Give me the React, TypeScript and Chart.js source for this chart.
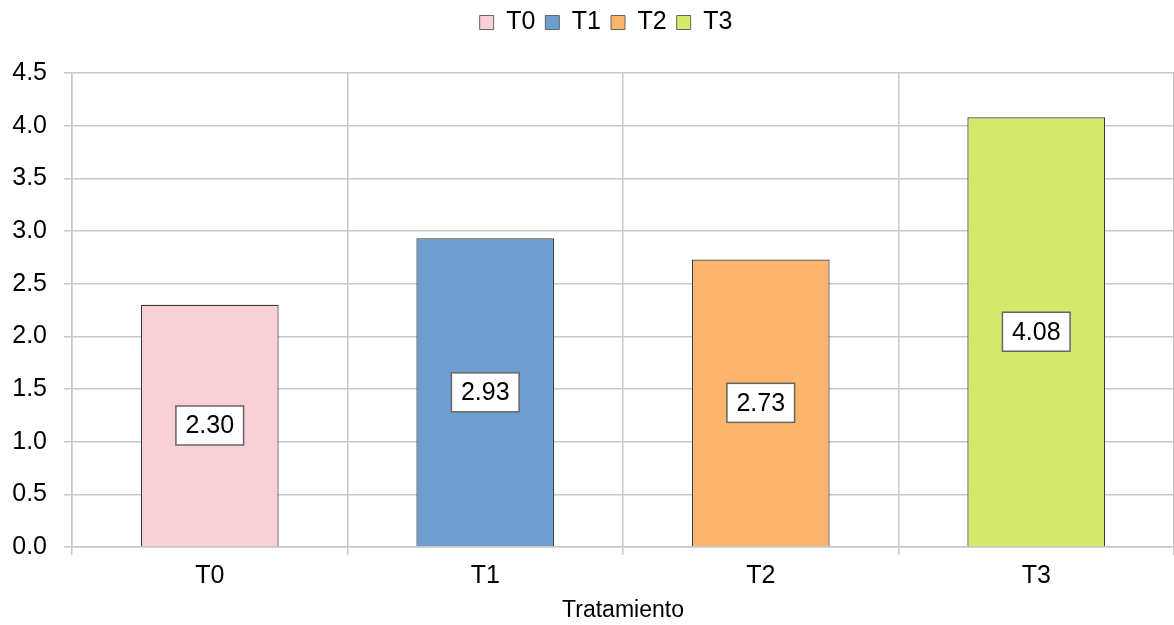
import React, { useEffect, useRef } from "react";
import { Chart, registerables } from "chart.js";

Chart.register(...registerables);

const categories = ["T0", "T1", "T2", "T3"];
const values = [2.3, 2.93, 2.73, 4.08];
const barColors = ["#F8D0D6", "#6E9ECF", "#FDB46C", "#D5E96C"];
const yTicks = [0, 0.5, 1, 1.5, 2, 2.5, 3, 3.5, 4, 4.5];
const axisTitle = "Tratamiento";

const FONT = "'Liberation Sans', Arial, sans-serif";

const labelPlugin = {
  id: "boxLabels",
  afterDatasetsDraw(chart: any) {
    const ctx = chart.ctx;
    const meta = chart.getDatasetMeta(0);
    ctx.save();
    ctx.font = `25px ${FONT}`;
    ctx.textAlign = "center";
    ctx.textBaseline = "middle";
    meta.data.forEach((bar: any, i: number) => {
      const v = chart.data.datasets[0].data[i] as number;
      const text = v.toFixed(2);
      const cx = bar.x;
      const cy = (bar.y + bar.base) / 2;
      const w = ctx.measureText(text).width + 19;
      const h = 39;
      ctx.fillStyle = "#FFFFFF";
      ctx.fillRect(cx - w / 2, cy - h / 2, w, h);
      ctx.strokeStyle = "#666666";
      ctx.lineWidth = 1.5;
      ctx.strokeRect(cx - w / 2, cy - h / 2, w, h);
      ctx.fillStyle = "#000000";
      ctx.fillText(text, cx, cy + 1);
    });
    ctx.restore();
  },
};

const legendSpacing = {
  id: "legendSpacing",
  beforeInit(chart: any) {
    const legend = chart.legend;
    if (!legend) return;
    const origFit = legend.fit;
    legend.fit = function () {
      origFit.call(this);
      this.height += 28;
    };
    const origDraw = legend.draw;
    legend.draw = function () {
      const ctx = this.ctx;
      ctx.save();
      ctx.translate(19, 0);
      origDraw.call(this);
      ctx.restore();
    };
  },
};

export default function App() {
  const ref = useRef<HTMLCanvasElement | null>(null);
  useEffect(() => {
    if (!ref.current) return;
    const chart = new Chart(ref.current, {
      type: "bar",
      data: {
        labels: categories,
        datasets: [
          {
            data: values,
            backgroundColor: barColors,
            borderColor: "#3A3A3A",
            borderWidth: 1.2,
            barPercentage: 0.5,
            categoryPercentage: 1,
          },
        ],
      },
      plugins: [labelPlugin, legendSpacing],
      options: {
        responsive: false,
        animation: false,
        layout: { padding: { top: 0, right: 0, left: 0, bottom: 0 } },
        plugins: {
          tooltip: { enabled: false },
          legend: {
            display: true,
            position: "top",
            labels: {
              color: "#000",
              font: { family: FONT, size: 25 },
              boxWidth: 14,
              boxHeight: 14,
              padding: 10,
              generateLabels: () =>
                categories.map((c, i) => ({
                  text: c,
                  fillStyle: barColors[i],
                  strokeStyle: "#666666",
                  lineWidth: 1,
                  hidden: false,
                  index: i,
                  datasetIndex: 0,
                })),
            },
          },
        },
        scales: {
          x: {
            offset: true,
            grid: {
              offset: true,
              color: "#C8C8C8",
              lineWidth: 1.5,
              tickLength: 8,
              drawTicks: true,
            },
            border: { color: "#C8C8C8", width: 1.5 },
            ticks: {
              color: "#000",
              font: { family: FONT, size: 25 },
              padding: 6,
            },
            title: {
              display: true,
              text: axisTitle,
              color: "#000",
              font: { family: FONT, size: 23 },
              padding: { top: 2, bottom: 1 },
            },
            afterFit: (scale: any) => {
              scale.height = 78;
            },
          },
          y: {
            min: 0,
            max: 4.5,
            afterBuildTicks: (scale: any) => {
              scale.ticks = yTicks.map((v) => ({ value: v }));
            },
            grid: {
              color: "#C8C8C8",
              lineWidth: 1.5,
              tickLength: 8,
            },
            border: { color: "#C8C8C8", width: 1.5 },
            ticks: {
              color: "#000",
              font: { family: FONT, size: 25 },
              padding: 17,
              callback: (v: any) => Number(v).toFixed(1),
            },
            afterFit: (scale: any) => {
              scale.width = 72;
            },
          },
        },
      },
    });
    return () => chart.destroy();
  }, []);
  return (
    <div style={{ position: "fixed", left: 0, top: 0, width: 1174, height: 625, background: "#fff" }}>
      <canvas ref={ref} width={1174} height={625} style={{ display: "block" }} />
    </div>
  );
}
